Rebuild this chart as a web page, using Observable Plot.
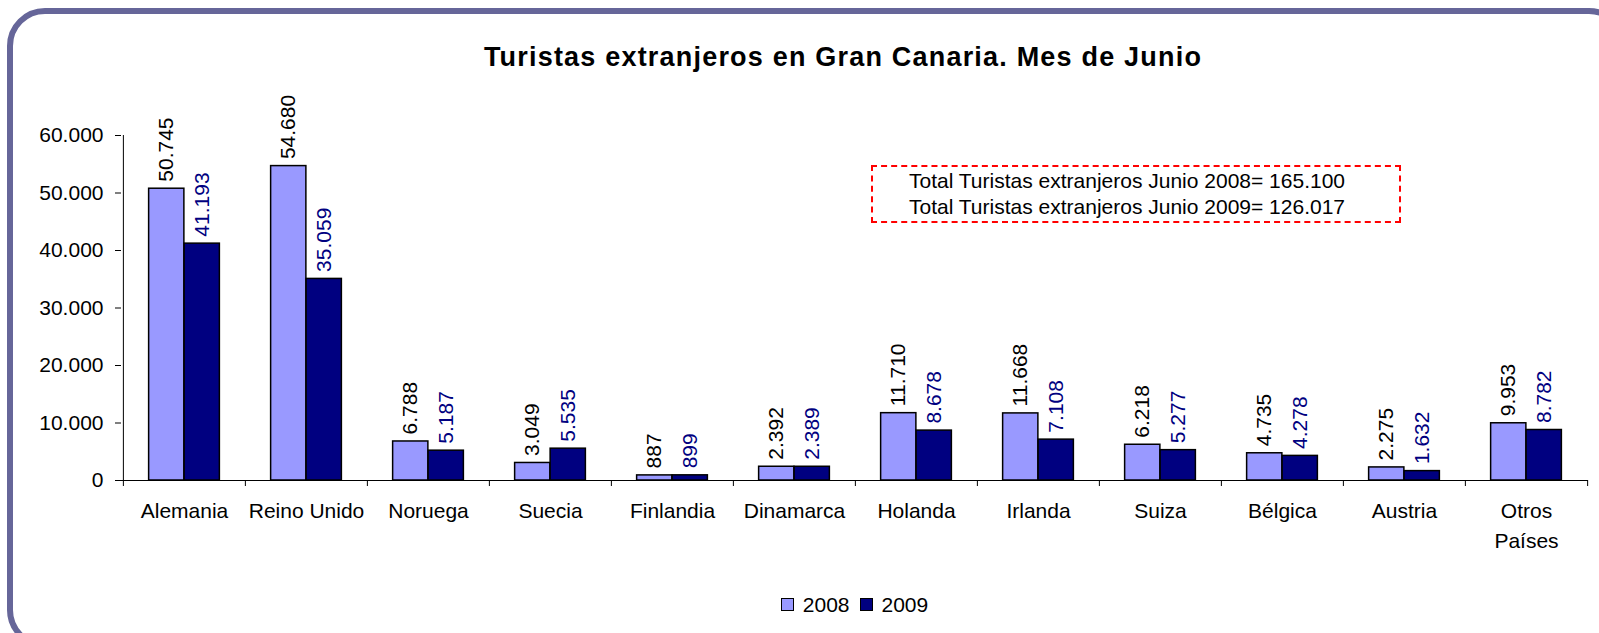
<!DOCTYPE html>
<html>
<head>
<meta charset="utf-8">
<script src="https://cdn.jsdelivr.net/npm/d3@7"></script>
<script src="https://cdn.jsdelivr.net/npm/@observablehq/plot@0.6"></script>
<style>
  html, body { margin: 0; padding: 0; background: #fff; }
  #wrap { position: relative; width: 1599px; height: 633px; overflow: hidden; font-family: "Liberation Sans", Arial, sans-serif; }
  #border { position: absolute; left: 7px; top: 8px; width: 1620px; height: 640px; border: 6px solid #666699; border-radius: 38px; box-sizing: border-box; }
  #title { position: absolute; left: 0; width: 1686px; top: 42px; line-height: 31px; text-align: center; font-weight: bold; font-size: 27px; letter-spacing: 1.2px; color: #000; }
  #chart { position: absolute; left: 0; top: 0; }
  #note { position: absolute; left: 871px; top: 165px; width: 530px; height: 58px; border: 2px dashed #ff0000; box-sizing: border-box; text-align: center; font-size: 21px; line-height: 26px; padding-top: 1px; padding-right: 18px; color: #000; white-space: nowrap; }
  #legend { position: absolute; top: 592px; left: 0; width: 1709px; text-align: center; font-size: 21px; line-height: 26px; color: #000; }
  #legend span.sw { display: inline-block; width: 11px; height: 11px; border: 1px solid #000; vertical-align: middle; margin-right: 9px; position: relative; top: -2px; }
  #legend span.item { margin: 0 5px; }
</style>
</head>
<body>
<div id="wrap">
  <div id="border"></div>
  <div id="title">Turistas extranjeros en Gran Canaria. Mes de Junio</div>
  <div id="chart"></div>
  <div id="note">Total Turistas extranjeros Junio 2008= 165.100<br>Total Turistas extranjeros Junio 2009= 126.017</div>
  <div id="legend"></div>
</div>
<script>
const countries = ["Alemania", "Reino Unido", "Noruega", "Suecia", "Finlandia", "Dinamarca", "Holanda", "Irlanda", "Suiza", "Bélgica", "Austria", "Otros\nPaíses"];
const values2008 = [50745, 54680, 6788, 3049, 887, 2392, 11710, 11668, 6218, 4735, 2275, 9953];
const values2009 = [41193, 35059, 5187, 5535, 899, 2389, 8678, 7108, 5277, 4278, 1632, 8782];
const years = ["2008", "2009"];
const yTicks = [0, 10000, 20000, 30000, 40000, 50000, 60000];
const colors = ["#9999FF", "#000080"];
const labelColors = ["#000000", "#000080"];

const locale = d3.formatLocale({decimal: ",", thousands: ".", grouping: [3], currency: ["", "€"]});
const fmt = locale.format(",d");

const d2008 = countries.map((c, i) => ({country: c, year: years[0], value: values2008[i]}));
const d2009 = countries.map((c, i) => ({country: c, year: years[1], value: values2009[i]}));

const W = 1599, H = 560, mL = 121, mR = 11, mT = 135, mB = 80;
const bw = (W - mL - mR) / countries.length;
const half = bw / 2;
const barW = 35.5;
const fs = 21;

const chart = Plot.plot({
  width: W,
  height: H,
  marginLeft: mL,
  marginRight: mR,
  marginTop: mT,
  marginBottom: mB,
  style: {fontFamily: "'Liberation Sans', Arial, sans-serif", color: "#000", background: "transparent", overflow: "visible"},
  x: {domain: countries, padding: 0, axis: null},
  y: {domain: [0, 60000], axis: null},
  marks: [
    Plot.barY(d2008, {x: "country", y: "value", fill: colors[0], stroke: "#000", strokeWidth: 1.5, insetLeft: half - barW, insetRight: half}),
    Plot.barY(d2009, {x: "country", y: "value", fill: colors[1], stroke: "#000", strokeWidth: 1.5, insetLeft: half, insetRight: half - barW}),
    Plot.text(d2008, {x: "country", y: "value", text: d => fmt(d.value), rotate: -90, textAnchor: "start", dx: -barW / 2, dy: -7, fill: labelColors[0], fontSize: fs}),
    Plot.text(d2009, {x: "country", y: "value", text: d => fmt(d.value), rotate: -90, textAnchor: "start", dx: barW / 2, dy: -7, fill: labelColors[1], fontSize: fs}),
    Plot.axisY({ticks: yTicks, tickFormat: fmt, tickSize: 6, tickPadding: 12, fontSize: fs, label: null, stroke: "#000"}),
    Plot.ruleX([countries[0]], {y1: 0, y2: 60000, dx: -half, stroke: "#000"}),
    Plot.ruleY([0], {stroke: "#000"}),
    Plot.axisX({ticks: countries, tickSize: 6, tickFormat: () => "", dx: -half, label: null}),
    Plot.axisX({ticks: [countries[countries.length - 1]], tickSize: 6, tickFormat: () => "", dx: half, label: null}),
    Plot.axisX({ticks: countries, tickSize: 0, tickPadding: 16, fontSize: fs, lineHeight: 1.43, label: null})
  ]
});
document.getElementById("chart").appendChild(chart);

const legend = document.getElementById("legend");
years.forEach((y, i) => {
  const item = document.createElement("span");
  item.className = "item";
  const sw = document.createElement("span");
  sw.className = "sw";
  sw.style.background = colors[i];
  item.appendChild(sw);
  item.appendChild(document.createTextNode(y));
  legend.appendChild(item);
});
</script>
</body>
</html>
